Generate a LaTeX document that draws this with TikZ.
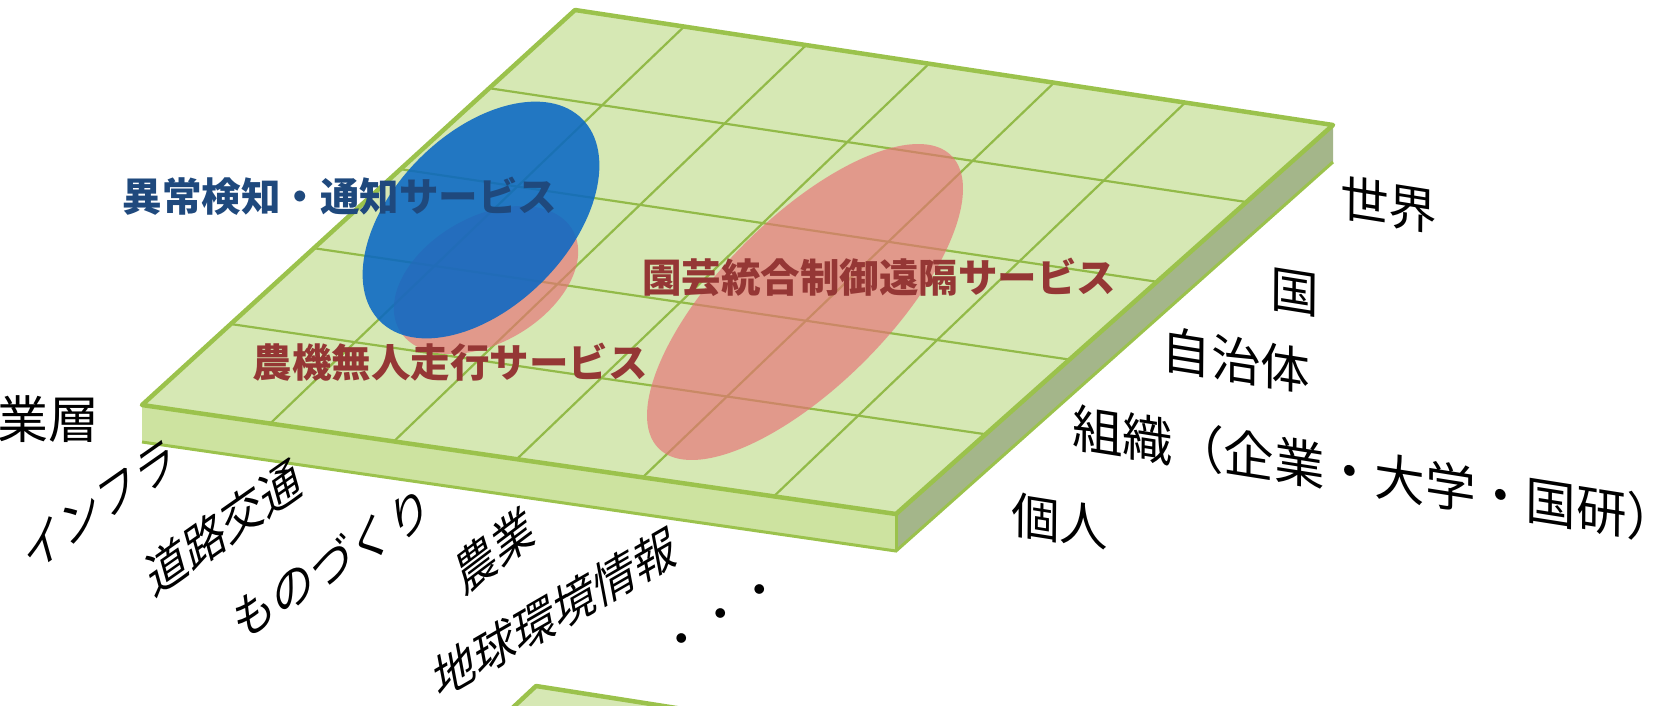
\documentclass[tikz,border=0pt]{standalone}
\usepackage{fontspec}
\newfontfamily\jp{Noto Sans CJK JP}
\usetikzlibrary{calc}
\definecolor{topface}{RGB}{214,232,180}
\definecolor{frontface}{RGB}{205,227,160}
\definecolor{sideface}{RGB}{164,182,138}
\definecolor{edgegreen}{RGB}{155,194,76}
\definecolor{gridgreen}{RGB}{146,186,72}
\definecolor{bluefill}{RGB}{10,104,196}
\definecolor{pinkfill}{RGB}{232,112,118}
\definecolor{darkblue}{RGB}{31,73,125}
\definecolor{darkred}{RGB}{149,55,53}
\begin{document}
\begin{tikzpicture}[x=1pt,y=-1pt,
  gridline/.style={draw=gridgreen,line width=2.2pt},
  rimline/.style={draw=edgegreen,line width=4.5pt,line join=round,line cap=round},
  svc/.style={font=\jp\bfseries\fontsize{39.5}{40}\selectfont,inner sep=0pt},
  axlbl/.style={font=\jp\fontsize{49}{49}\selectfont,inner sep=0pt,text=black,rotate=-9,xslant=-0.15},
  collbl/.style={font=\jp\fontsize{46}{46}\selectfont,inner sep=0pt,text=black},
  pinkblob/.style={fill=pinkfill,fill opacity=0.65},
  blueblob/.style={fill=bluefill,fill opacity=0.88}]
\useasboundingbox (0,0) rectangle (1678,705);
\clip (0,0) rectangle (1678,705);
% slab corners
\coordinate (A) at (575,10);
\coordinate (B) at (1333,125);
\coordinate (C) at (896,514);
\coordinate (D) at (142,405);
\coordinate (Bb) at (1333,162);
\coordinate (Cb) at (896,551);
\coordinate (Db) at (142,442);
% faces
\fill[frontface] (D) -- (C) -- (Cb) -- (Db) -- cycle;
\fill[sideface] (C) -- (B) -- (Bb) -- (Cb) -- cycle;
\fill[topface] (A) -- (B) -- (C) -- (D) -- cycle;
% grid
\foreach \tb/\tf in {0.144/0.170,0.305/0.334,0.467/0.497,0.632/0.664,0.805/0.838}
  \draw[gridline] ($(A)!\tb!(B)$) -- ($(D)!\tf!(C)$);
\foreach \t in {0.198,0.403,0.603,0.795}
  \draw[gridline] ($(A)!\t!(D)$) -- ($(B)!\t!(C)$);
% rims
\draw[draw=edgegreen,line width=3pt] (Db) -- (Cb) -- (Bb);
\draw[draw=edgegreen,line width=3pt] (C) -- (Cb);
\draw[rimline] (C) -- (D) -- (A) -- (B) -- cycle;
% ellipses
\coordinate (ebig) at (805,302);
\coordinate (esmall) at (486,280);
\coordinate (eblue) at (481,220);
\fill[pinkblob,rotate around={45:(ebig)}] (ebig) ellipse [x radius=207pt,y radius=84pt];
\fill[pinkblob,rotate around={30:(esmall)}] (esmall) ellipse [x radius=100pt,y radius=63pt];
\fill[blueblob,rotate around={45:(eblue)}] (eblue) ellipse [x radius=143pt,y radius=87pt];
% lower slab corner
\coordinate (A2) at (536,686);
\fill[topface] (508,712) -- (A2) -- (702,712) -- cycle;
\draw[rimline] (506,714) -- (A2) -- (702,712);
% service labels
\node[svc,text=darkblue] (s1) at (340,196) {異常検知・通知サービス};
\node[svc,text=darkred] (s2) at (879,277) {園芸統合制御遠隔サービス};
\node[svc,text=darkred] (s3) at (450,362) {農機無人走行サービス};
% layer label
\node[font=\jp\fontsize{51}{51}\selectfont,inner sep=0pt,anchor=east] (layer) at (100,419) {業層};
% right axis labels
\node[axlbl] (r1) at (1389,205) {世界};
\node[axlbl] (r2) at (1295,293) {国};
\node[axlbl,font=\jp\fontsize{50}{50}\selectfont] (r3) at (1236,360) {自治体};
\node[axlbl,font=\jp\fontsize{51}{51}\selectfont] (r4) at (1375,475) {組織（企業・大学・国研）};
\node[axlbl] (r5) at (1060,521) {個人};
% left column labels
\node[collbl,rotate=35,xslant=0.35] (c1) at (99,505) {インフラ};
\node[collbl,rotate=35,xslant=0.35] (c2) at (224,527) {道路交通};
\node[collbl,rotate=32,xslant=0.35] (c3) at (332,563) {ものづくり};
\node[collbl,rotate=37,xslant=0.35] (c4) at (495,550) {農業};
\node[collbl,rotate=30,xslant=0.35] (c5) at (555,612) {地球環境情報};
\node[font=\jp\fontsize{46}{46}\selectfont,inner sep=0pt,rotate=32] (dots) at (724,619) {・・・};
\end{tikzpicture}
\end{document}
